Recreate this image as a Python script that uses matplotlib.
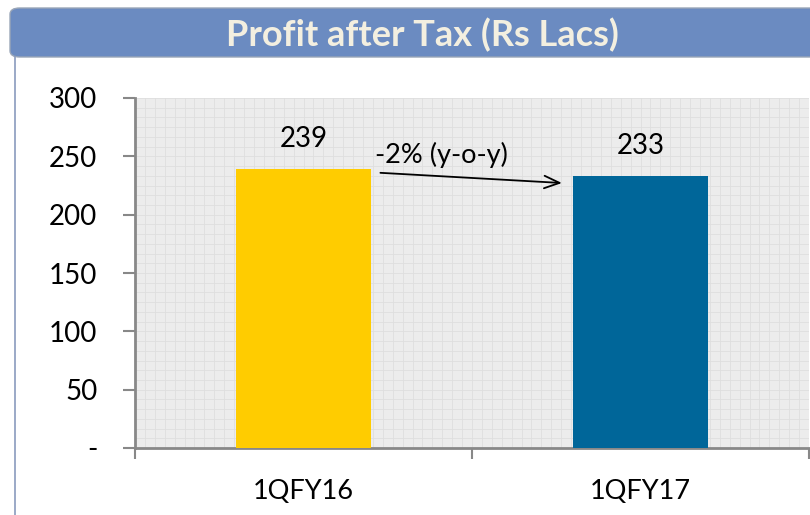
import numpy as np
import matplotlib.pyplot as plt
from matplotlib.patches import FancyBboxPatch
from matplotlib.ticker import MultipleLocator

periods = ['1QFY16', '1QFY17']
pat = [239, 233]
bar_colors = ['#ffcc00', '#006699']
y_ticks = [0, 50, 100, 150, 200, 250, 300]
y_labels = ['-', '50', '100', '150', '200', '250', '300']
title = 'Profit after Tax (Rs Lacs)'
change_note = '-2% (y-o-y)'

plt.rcParams['font.family'] = ['Lato', 'DejaVu Sans']

fig = plt.figure(figsize=(8.1, 5.15), dpi=100)
W, H = 810.0, 515.0

# header band and frame
band = FancyBboxPatch((10 / W, 1 - 57 / H), 820 / W, 49 / H,
                      boxstyle='round,pad=0,rounding_size=0.012',
                      transform=fig.transFigure, facecolor='#6b8bc1',
                      edgecolor='#9aa6b8', linewidth=1)
fig.patches.append(band)
fig.add_artist(plt.Line2D([15 / W, 15 / W], [0, 1 - 57 / H], transform=fig.transFigure,
                          color='#8a9bbd', linewidth=1.2))
fig.text(422 / W, 1 - 35 / H, title, ha='center', va='center', fontsize=26,
         fontweight='bold', color='#f3efe0')

ax = fig.add_axes([135 / W, 1 - 448 / H, 674 / W, 350 / H])
ax.set_facecolor('#ececec')

x = np.arange(len(periods)) + 0.5
bars = ax.bar(x, pat, width=0.40, color=bar_colors, zorder=3)

for xi, v in zip(x, pat):
    ax.text(xi, v + 15, str(v), ha='center', va='bottom', fontsize=20, zorder=4)

# y-o-y arrow
ax.annotate('', xy=(1.275, 227), xytext=(0.72, 236),
            arrowprops=dict(arrowstyle='->,head_length=1.1,head_width=0.45',
                            color='black', lw=1.3), zorder=5)
ax.text(0.712, 251, change_note, ha='left', va='center', fontsize=19.5, zorder=5)

ax.set_xlim(0, 2)
ax.set_ylim(0, 300)
ax.set_yticks(y_ticks)
ax.set_yticklabels(y_labels, fontsize=20)
ax.set_xticks([0, 1, 2])
ax.set_xticklabels(['', '', ''])
for xi, lab in zip(x, periods):
    ax.text(xi, -37, lab, ha='center', va='center', fontsize=19.5)

# graph paper grid
ax.xaxis.set_minor_locator(MultipleLocator(1 / 34))
ax.yaxis.set_minor_locator(MultipleLocator(50 / 6))
ax.grid(which='minor', color='#dedede', linewidth=0.6, zorder=0)
ax.grid(which='major', color='#dedede', linewidth=0.6, zorder=0)
ax.tick_params(which='minor', length=0)
ax.tick_params(axis='y', which='major', length=9, width=1.5, color='#888888', pad=18)
ax.tick_params(axis='x', which='major', length=8, width=1.5, color='#888888')

for s in ['top', 'right']:
    ax.spines[s].set_visible(False)
for s in ['left', 'bottom']:
    ax.spines[s].set_color('#888888')
    ax.spines[s].set_linewidth(2)

fig.savefig('out.png', dpi=100)
